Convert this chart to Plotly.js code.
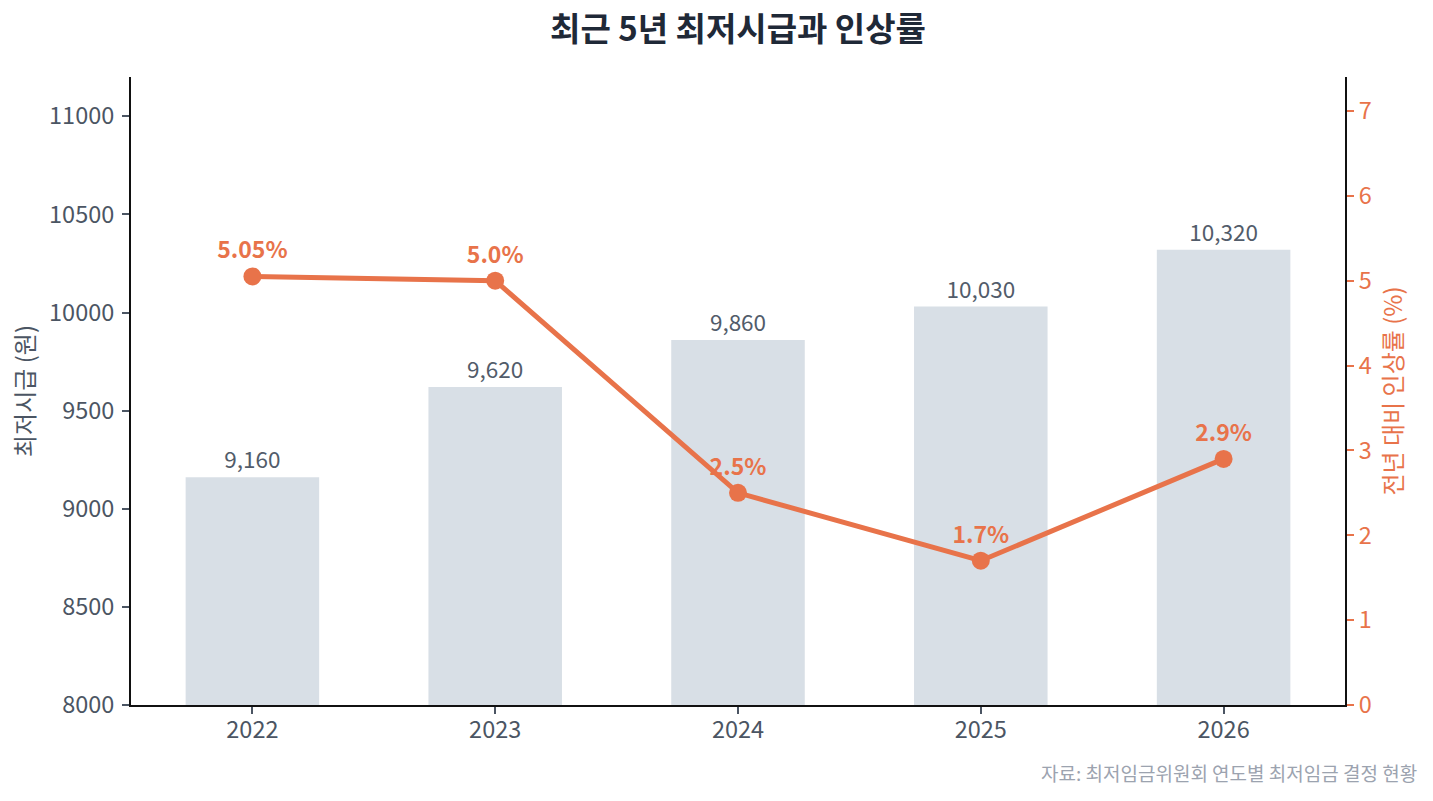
<!DOCTYPE html>
<html>
<head>
<meta charset="utf-8">
<script src="https://cdn.plot.ly/plotly-3.0.1.min.js"></script>
<style>
  body { margin: 0; background: #fff; }
  #chart { width: 1433px; height: 801px; }
</style>
</head>
<body>
<div id="chart"></div>
<script>
var years = ['2022', '2023', '2024', '2025', '2026'];
var wages = [9160, 9620, 9860, 10030, 10320];
var rates = [5.05, 5.0, 2.5, 1.7, 2.9];
var rateLabels = ['5.05%', '5.0%', '2.5%', '1.7%', '2.9%'];

var font = 'Noto Sans CJK KR, Noto Sans, sans-serif';
var orange = '#E8734A';

var bars = {
  x: years,
  y: wages,
  type: 'bar',
  width: 0.55,
  marker: { color: '#D8DFE6' },
  text: wages.map(v => v.toLocaleString('en-US')),
  textposition: 'outside',
  textfont: { size: 22.5, color: '#525c6a', family: font },
  cliponaxis: false,
  hoverinfo: 'skip',
  showlegend: false
};

var line = {
  x: years,
  y: rates,
  yaxis: 'y2',
  type: 'scatter',
  mode: 'lines+markers+text',
  line: { color: orange, width: 5 },
  marker: { color: orange, size: 18 },
  text: rateLabels,
  textposition: 'top center',
  textfont: { size: 23, color: orange, family: font, weight: 'bold' },
  cliponaxis: false,
  showlegend: false
};

var layout = {
  width: 1433,
  height: 801,
  margin: { l: 131, r: 88, t: 77, b: 96 },
  paper_bgcolor: '#fff',
  plot_bgcolor: '#fff',
  font: { family: font, color: '#4b5563' },
  title: {
    text: '최근 5년 최저시급과 인상률',
    font: { size: 33, color: '#1f2937', family: font, weight: 'bold' },
    xref: 'paper',
    x: 0.5,
    xanchor: 'center',
    y: 0.963,
    yanchor: 'middle'
  },
  xaxis: {
    type: 'category',
    showline: true,
    linecolor: '#111',
    linewidth: 2,
    ticks: 'outside',
    ticklen: 7,
    tickcolor: '#4b5563',
    tickwidth: 2,
    ticklabelstandoff: -4,
    tickfont: { size: 23.5, color: '#4b5563' },
    showgrid: false,
    zeroline: false
  },
  yaxis: {
    range: [8000, 11200],
    tickvals: [8000, 8500, 9000, 9500, 10000, 10500, 11000],
    ticktext: ['8000', '8500', '9000', '9500', '10000', '10500', '11000'],
    showline: true,
    linecolor: '#111',
    linewidth: 2,
    ticks: 'outside',
    ticklen: 7,
    tickcolor: '#4b5563',
    tickwidth: 2,
    ticklabelstandoff: 3,
    tickfont: { size: 23.5, color: '#4b5563' },
    showgrid: false,
    zeroline: false,
    title: { text: '최저시급 (원)', font: { size: 24, color: '#4b5563' }, standoff: 8 }
  },
  yaxis2: {
    overlaying: 'y',
    side: 'right',
    range: [0, 7.4],
    dtick: 1,
    showline: true,
    linecolor: '#111',
    linewidth: 2,
    ticks: 'outside',
    ticklen: 7,
    tickcolor: orange,
    tickwidth: 2,
    tickfont: { size: 23.5, color: orange },
    showgrid: false,
    zeroline: false,
    title: { text: '전년 대비 인상률 (%)', font: { size: 24, color: orange }, standoff: 14 }
  },
  annotations: [{
    text: '자료: 최저임금위원회 연도별 최저임금 결정 현황',
    xref: 'paper', yref: 'paper',
    x: 1.061, y: -0.107,
    xanchor: 'right', yanchor: 'middle',
    showarrow: false,
    font: { size: 19, color: '#9ca3af', family: font }
  }]
};

Plotly.newPlot('chart', [bars, line], layout, { displayModeBar: false });
</script>
</body>
</html>
